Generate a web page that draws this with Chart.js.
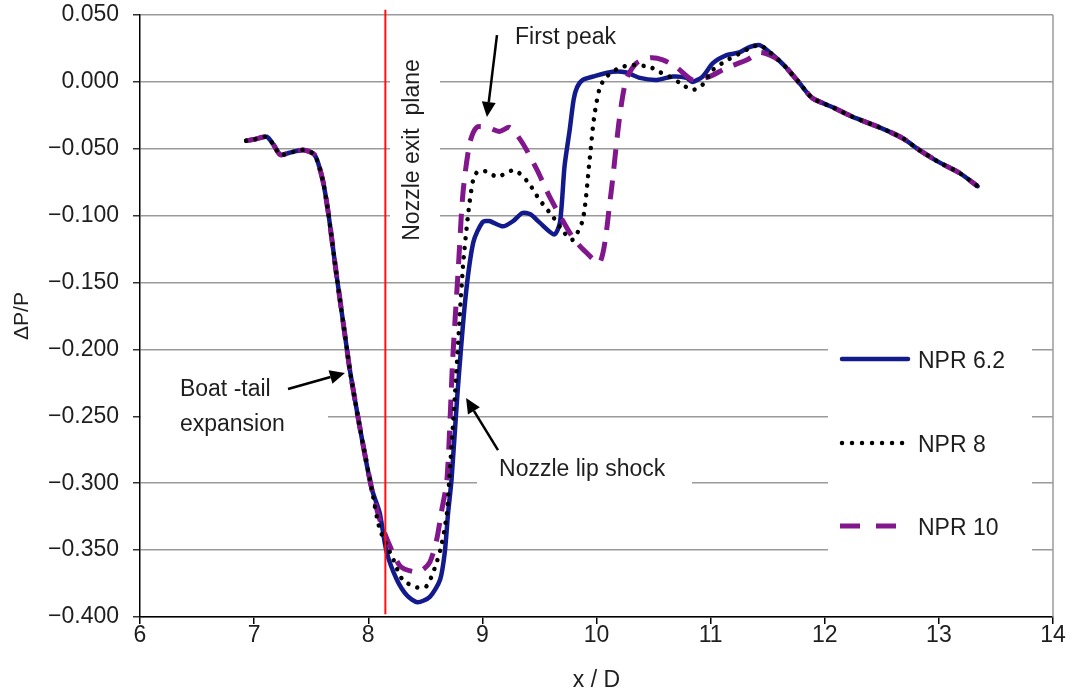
<!DOCTYPE html>
<html>
<head>
<meta charset="utf-8">
<script src="https://cdn.jsdelivr.net/npm/chart.js@4/dist/chart.umd.min.js"></script>
<style>
html,body{margin:0;padding:0;background:#fff;}
#wrap{width:1073px;height:696px;position:relative;}
</style>
</head>
<body>
<div id="wrap"><canvas id="c" width="1073" height="696"></canvas></div>
<script>
// ---------- DATA ----------
const seriesNames = ['NPR 6.2', 'NPR 8', 'NPR 10'];

// shared upstream part (boat-tail) – identical for all three NPRs
const commonX = [6.93, 7.00, 7.11, 7.17, 7.23, 7.31, 7.43, 7.53, 7.60, 7.65, 7.72, 7.81, 7.84, 7.93, 8.03];
const commonY = [-0.044, -0.043, -0.041, -0.047, -0.0545, -0.053, -0.051, -0.0545, -0.073, -0.098, -0.143, -0.198, -0.216, -0.260, -0.304];

// shared downstream tail (x >= 11.6)
const tailX = [11.60, 11.67, 11.72, 11.78, 11.89, 12.07, 12.24, 12.48, 12.68, 12.83, 13.00, 13.18, 13.34];
const tailY = [0.016, 0.010, 0.005, -0.001, -0.012, -0.019, -0.026, -0.034, -0.042, -0.051, -0.060, -0.068, -0.078];

const npr62X = [8.10, 8.16, 8.25, 8.34, 8.43, 8.54, 8.63, 8.67, 8.70, 8.73, 8.78, 8.85, 8.92, 9.00, 9.06, 9.18, 9.27, 9.35, 9.42, 9.50, 9.63, 9.68, 9.72, 9.765, 9.80, 9.83, 9.88, 9.97, 10.14, 10.26, 10.38, 10.53, 10.67, 10.79, 10.84, 10.93, 11.02, 11.14, 11.25, 11.34, 11.43, 11.52];
const npr62Y = [-0.322, -0.351, -0.372, -0.384, -0.389, -0.385, -0.372, -0.352, -0.322, -0.297, -0.235, -0.163, -0.120, -0.105, -0.104, -0.108, -0.104, -0.098, -0.099, -0.105, -0.114, -0.105, -0.063, -0.036, -0.013, -0.004, 0.0015, 0.004, 0.0075, 0.007, 0.003, 0.0015, 0.004, 0.003, 0.000, 0.004, 0.014, 0.020, 0.022, 0.026, 0.0275, 0.022];

const npr8X = [8.10, 8.22, 8.30, 8.43, 8.51, 8.58, 8.64, 8.69, 8.71, 8.76, 8.83, 8.88, 8.92, 8.96, 9.04, 9.13, 9.28, 9.40, 9.50, 9.62, 9.72, 9.79, 9.88, 9.94, 9.98, 10.03, 10.09, 10.20, 10.32, 10.47, 10.55, 10.64, 10.73, 10.84, 10.93, 11.02, 11.14, 11.25, 11.34, 11.43, 11.52];
const npr8Y = [-0.334, -0.357, -0.372, -0.378, -0.377, -0.364, -0.347, -0.322, -0.297, -0.234, -0.138, -0.0955, -0.073, -0.067, -0.067, -0.071, -0.066, -0.075, -0.088, -0.101, -0.113, -0.118, -0.103, -0.058, -0.026, -0.004, 0.004, 0.0105, 0.0127, 0.011, 0.0075, 0.004, -0.0007, -0.006, -0.002, 0.009, 0.016, 0.021, 0.025, 0.0275, 0.022];

const npr10X = [8.10, 8.19, 8.28, 8.39, 8.47, 8.54, 8.60, 8.64, 8.69, 8.74, 8.79, 8.83, 8.89, 8.95, 9.04, 9.15, 9.24, 9.35, 9.48, 9.59, 9.70, 9.79, 9.88, 10.03, 10.12, 10.20, 10.26, 10.35, 10.47, 10.58, 10.70, 10.84, 10.99, 11.14, 11.32, 11.43, 11.52];
const npr10Y = [-0.327, -0.347, -0.362, -0.366, -0.365, -0.359, -0.342, -0.322, -0.297, -0.2075, -0.138, -0.083, -0.0455, -0.034, -0.034, -0.037, -0.034, -0.0455, -0.066, -0.086, -0.103, -0.116, -0.125, -0.135, -0.088, -0.028, 0.0015, 0.014, 0.018, 0.0165, 0.011, 0.0015, 0.004, 0.0105, 0.0165, 0.022, 0.020];

// nozzle exit plane location
const nozzleExitX = 8.15;
const nozzleLineY = [0.054, -0.398];

// axis ranges
const yMin = -0.4, yMax = 0.05, yStep = 0.05;
const xMin = 6, xMax = 14, xStep = 1;

// annotations (data coordinates)
const textNotes = [
  { text: 'First peak', x: 9.286, y: 0.0328, align: 'left' },
  { text: 'Boat -tail', x: 6.350, y: -0.2303, align: 'left' },
  { text: 'expansion', x: 6.350, y: -0.2565, align: 'left' },
  { text: 'Nozzle lip shock', x: 9.146, y: -0.2901, align: 'left' }
];
const rotatedNote = { text: 'Nozzle exit  plane', x: 8.392, y: -0.0509 };
const arrows = [
  { x0: 9.128, y0: 0.035, x1: 9.040, y1: -0.0262 },
  { x0: 7.297, y0: -0.2296, x1: 7.796, y1: -0.2176 },
  { x0: 9.137, y0: -0.2752, x1: 8.857, y1: -0.2363 }
];

// ---------- BUILD ----------
function pts(xs, ys) { return xs.map((x, i) => ({ x, y: ys[i] })); }
const full = (xs, ys) => pts(commonX, commonY).concat(pts(xs, ys)).concat(pts(tailX, tailY));

const FONT = '"Liberation Sans", Arial, Helvetica, sans-serif';
const TXT = '#1e1e1e';
const COL62 = '#121a8c', COL8 = '#000000', COL10 = '#82168c';

const maskBoxes = [
  { x: 390, y: 42, w: 50, h: 210 },
  { x: 141, y: 352, w: 187, h: 92 },
  { x: 477, y: 450, w: 215, h: 42 },
  { x: 828, y: 332, w: 204, h: 236 }
];

const overlay = {
  id: 'overlay',
  beforeDatasetsDraw(chart) {
    const { ctx, chartArea: a } = chart;
    ctx.save();
    ctx.strokeStyle = '#9a9a9a';
    ctx.lineWidth = 1.5;
    ctx.beginPath(); ctx.moveTo(a.right, a.top); ctx.lineTo(a.right, a.bottom); ctx.stroke();
    ctx.fillStyle = '#ffffff';
    for (const b of maskBoxes) ctx.fillRect(b.x, b.y, b.w, b.h);
    ctx.restore();
  },
  afterDraw(chart) {
    const { ctx, scales: { x, y } } = chart;
    ctx.save();
    ctx.fillStyle = TXT;
    ctx.font = '23px ' + FONT;
    ctx.textBaseline = 'middle';
    for (const n of textNotes) {
      ctx.textAlign = n.align;
      ctx.fillText(n.text, x.getPixelForValue(n.x), y.getPixelForValue(n.y));
    }
    ctx.save();
    ctx.translate(x.getPixelForValue(rotatedNote.x), y.getPixelForValue(rotatedNote.y));
    ctx.rotate(-Math.PI / 2);
    ctx.textAlign = 'center';
    ctx.fillText(rotatedNote.text, 0, 0);
    ctx.restore();
    ctx.strokeStyle = '#000'; ctx.fillStyle = '#000'; ctx.lineWidth = 2.5;
    for (const ar of arrows) {
      const px0 = x.getPixelForValue(ar.x0), py0 = y.getPixelForValue(ar.y0);
      const px1 = x.getPixelForValue(ar.x1), py1 = y.getPixelForValue(ar.y1);
      const ang = Math.atan2(py1 - py0, px1 - px0);
      const hl = 15, hw = 7;
      const bx = px1 - hl * Math.cos(ang), by = py1 - hl * Math.sin(ang);
      ctx.beginPath(); ctx.moveTo(px0, py0); ctx.lineTo(bx, by); ctx.stroke();
      ctx.beginPath();
      ctx.moveTo(px1, py1);
      ctx.lineTo(bx + hw * Math.sin(ang), by - hw * Math.cos(ang));
      ctx.lineTo(bx - hw * Math.sin(ang), by + hw * Math.cos(ang));
      ctx.closePath(); ctx.fill();
    }
    // legend
    const lx0 = 840, lx1 = 910, tx = 918;
    const rows = [359, 443, 526];
    ctx.lineWidth = 4.5;
    ctx.strokeStyle = COL62; ctx.lineCap = 'round'; ctx.setLineDash([]);
    ctx.beginPath(); ctx.moveTo(lx0 + 2, rows[0]); ctx.lineTo(lx1 - 2, rows[0]); ctx.stroke();
    ctx.strokeStyle = COL8; ctx.lineCap = 'round'; ctx.setLineDash([0.01, 10]);
    ctx.beginPath(); ctx.moveTo(lx0 + 2, rows[1]); ctx.lineTo(lx1 - 6, rows[1]); ctx.stroke();
    ctx.strokeStyle = COL10; ctx.lineCap = 'butt'; ctx.lineWidth = 5; ctx.setLineDash([20, 16]);
    ctx.beginPath(); ctx.moveTo(lx0, rows[2]); ctx.lineTo(lx1 - 14, rows[2]); ctx.stroke();
    ctx.setLineDash([]);
    ctx.fillStyle = TXT; ctx.textAlign = 'left'; ctx.textBaseline = 'middle';
    ctx.font = '23px ' + FONT;
    seriesNames.forEach((s, i) => ctx.fillText(s, tx, rows[i] + 3));
    ctx.restore();
  }
};

const fmt = v => (v < -1e-9 ? '\u2212' : '') + Math.abs(v).toFixed(3);

new Chart(document.getElementById('c'), {
  type: 'scatter',
  data: {
    datasets: [
      { label: seriesNames[1], data: full(npr8X, npr8Y), showLine: true, borderColor: COL8, borderWidth: 4.5,
        borderDash: [0.01, 9.5], borderCapStyle: 'round', pointRadius: 0, tension: 0.25, order: 1 },
      { label: seriesNames[2], data: full(npr10X, npr10Y), showLine: true, borderColor: COL10, borderWidth: 5,
        borderDash: [19, 12], borderCapStyle: 'butt', pointRadius: 0, tension: 0.25, order: 2 },
      { label: seriesNames[0], data: full(npr62X, npr62Y), showLine: true, borderColor: COL62, borderWidth: 4.5,
        pointRadius: 0, tension: 0.25, borderCapStyle: 'round', order: 3 },
      { label: 'Nozzle exit plane', data: nozzleLineY.map(v => ({ x: nozzleExitX, y: v })), showLine: true,
        borderColor: '#ff1010', borderWidth: 2, pointRadius: 0, clip: false, order: 0 }
    ]
  },
  options: {
    responsive: false,
    animation: false,
    devicePixelRatio: 1,
    layout: { autoPadding: false, padding: { left: 0, right: 20, top: 15, bottom: 0 } },
    plugins: { legend: { display: false }, tooltip: { enabled: false } },
    scales: {
      x: {
        type: 'linear', min: xMin, max: xMax,
        afterFit(s) { s.height = 79; s.paddingLeft = 0; s.paddingRight = 0; },
        ticks: { stepSize: xStep, padding: -2, color: TXT, font: { family: FONT, size: 23 }, maxRotation: 0 },
        grid: { drawOnChartArea: false, tickLength: 7, color: '#000', lineWidth: 1.5 },
        border: { color: '#000', width: 1.5 },
        title: { display: true, text: 'x / D', color: TXT, font: { family: FONT, size: 23 }, padding: { top: 0, bottom: 2 } }
      },
      y: {
        type: 'linear', min: yMin, max: yMax,
        afterFit(s) { s.width = 140; s.paddingTop = 0; s.paddingBottom = 0; },
        ticks: { stepSize: yStep, padding: 14, color: TXT, font: { family: FONT, size: 23 }, callback: v => fmt(v) },
        grid: { color: '#9a9a9a', lineWidth: 1.5, tickLength: 7, tickColor: '#333' },
        border: { color: '#000', width: 1.5 },
        title: { display: true, text: '\u0394P/P', color: TXT, font: { family: FONT, size: 21 }, padding: { top: 10, bottom: 0 } }
      }
    }
  },
  plugins: [overlay]
});
</script>
</body>
</html>
